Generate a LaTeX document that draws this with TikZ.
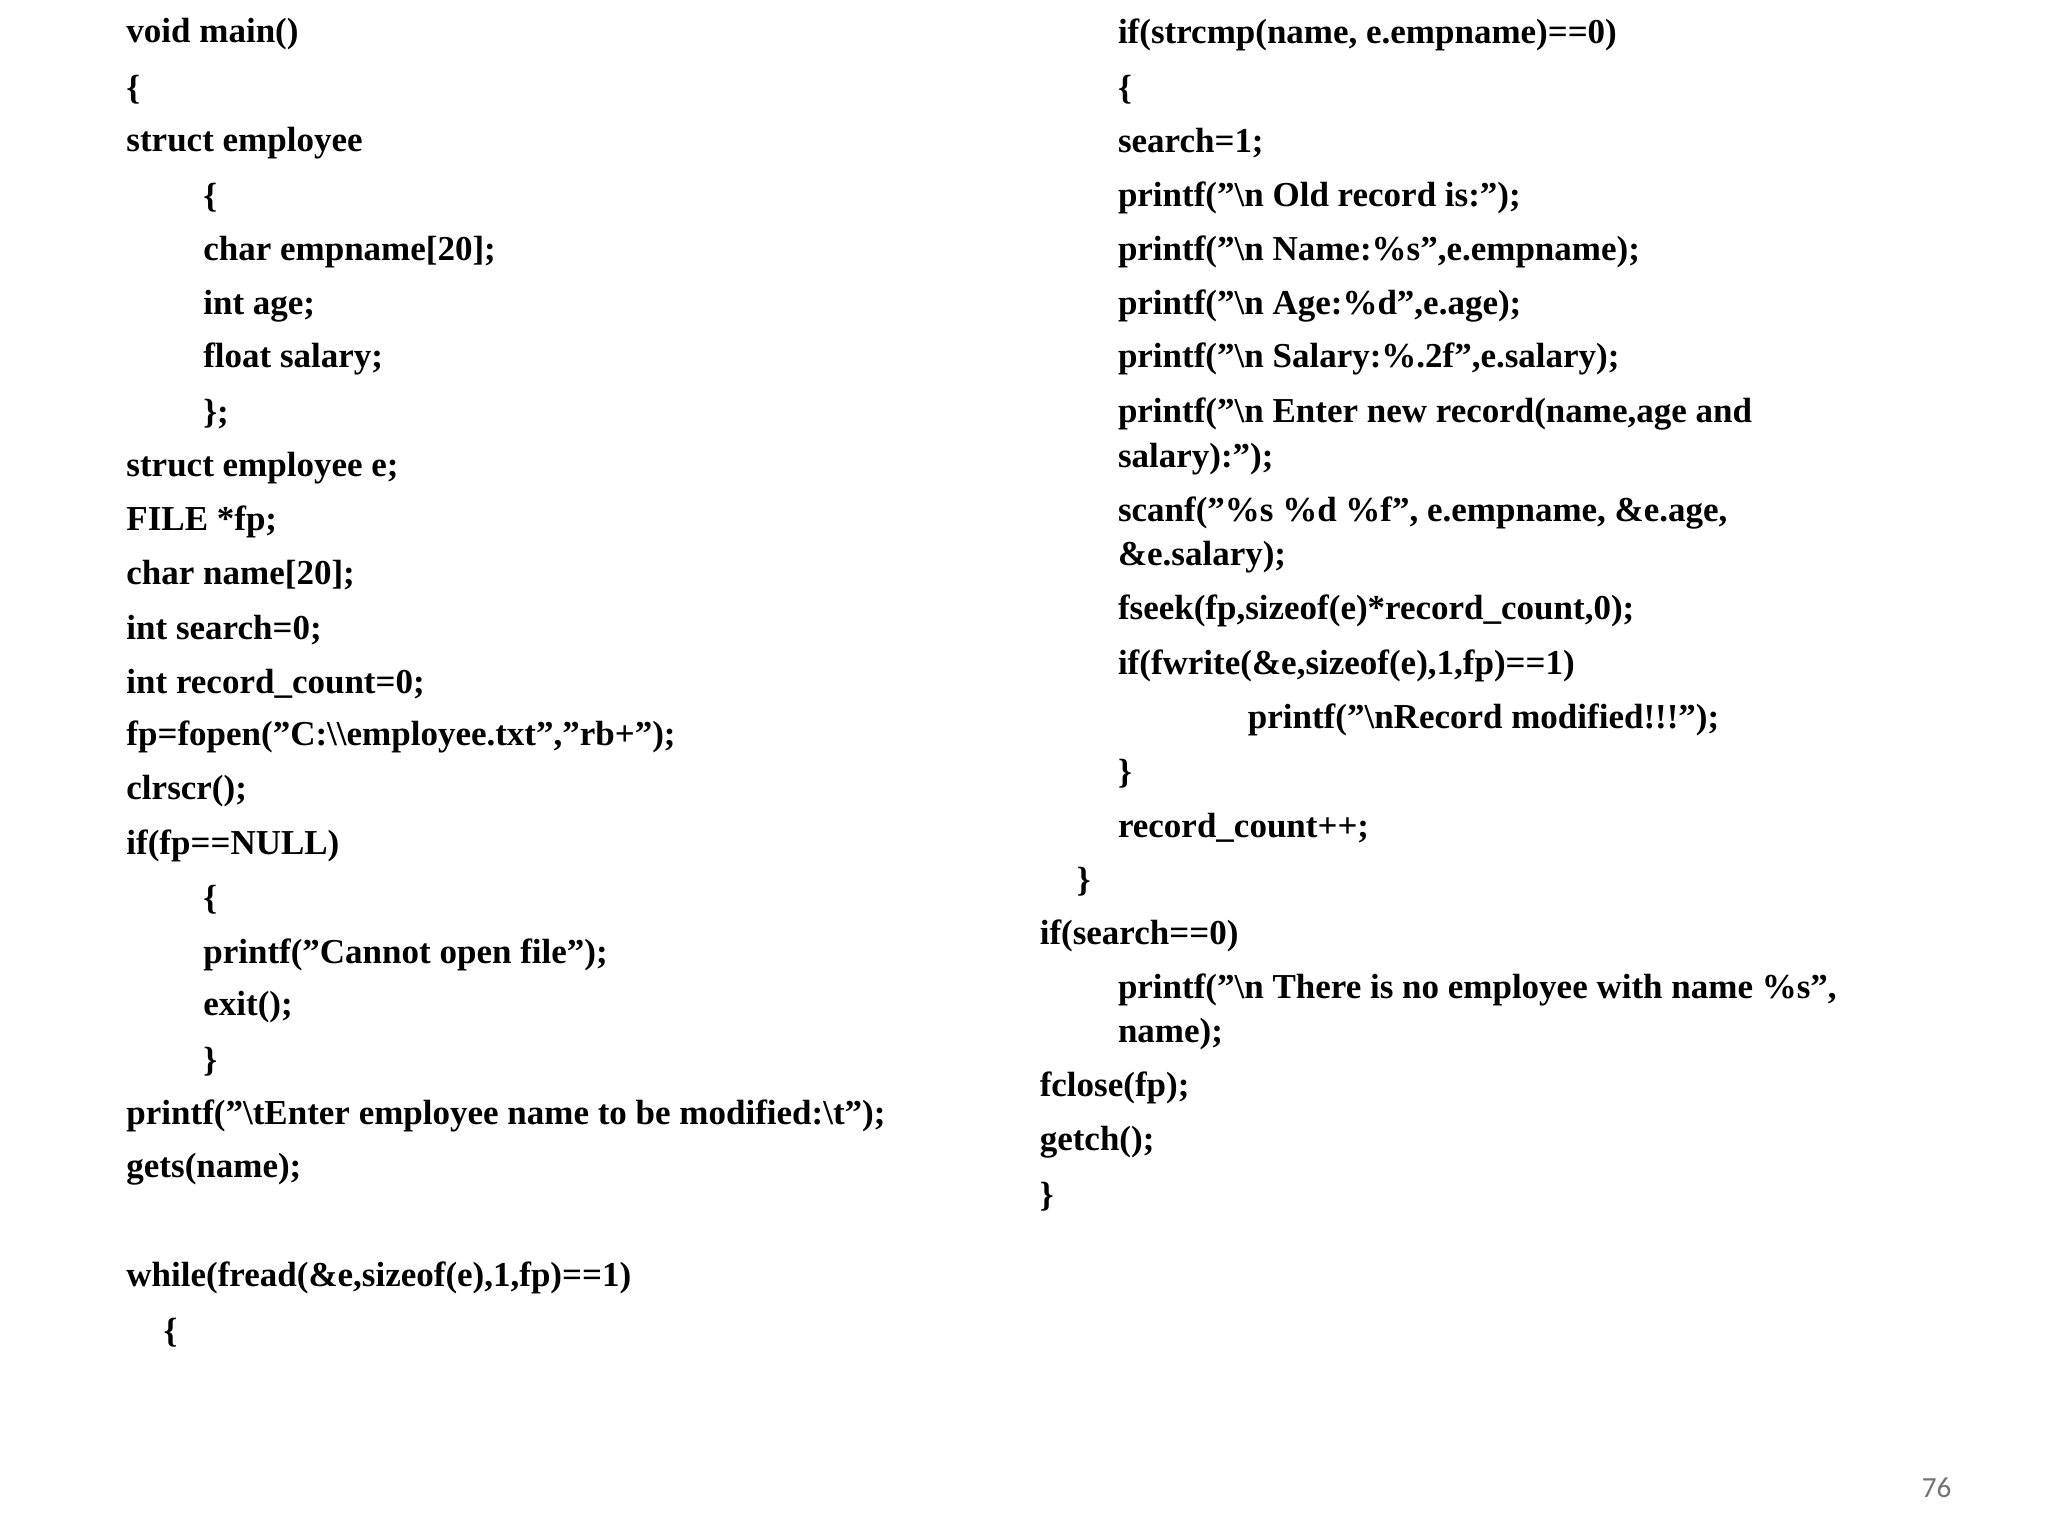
\documentclass[tikz,border=0pt]{standalone}
\usepackage{fontspec}
\setmainfont{Liberation Serif}
\newfontfamily\numfont{Carlito}
\newcommand{\bs}{\textbackslash}
\begin{document}
\begin{tikzpicture}[x=0.5pt,y=-0.5pt,
  code/.style={anchor=west,inner sep=0pt,font=\fontsize{13.2}{15}\selectfont\bfseries},
  pnum/.style={anchor=center,inner sep=0pt,font=\numfont\fontsize{11}{13}\selectfont,text=black!55}]
\useasboundingbox (0,0) rectangle (1545,1159);
% left column
\node[code] (a1) at (95,26) {void main()};
\node[code] (a2) at (95,68) {\{};
\node[code] (a3) at (95,108) {struct employee};
\node[code] (a4) at (153,149) {\{};
\node[code] (a5) at (153,190) {char empname[20];};
\node[code] (a6) at (153,231) {int age;};
\node[code] (a7) at (153,271) {float salary;};
\node[code] (a8) at (153,312) {\};};
\node[code] (a9) at (95,353) {struct employee e;};
\node[code] (a10) at (95,394) {FILE *fp;};
\node[code] (a11) at (95,434) {char name[20];};
\node[code] (a12) at (95,475) {int search=0;};
\node[code] (a13) at (95,516) {int record\_count=0;};
\node[code] (a14) at (95,556) {fp=fopen("C:\bs\bs employee.txt","rb+");};
\node[code] (a15) at (95,597) {clrscr();};
\node[code] (a16) at (95,638) {if(fp==NULL)};
\node[code] (a17) at (153,679) {\{};
\node[code] (a18) at (153,720) {printf("Cannot open file");};
\node[code] (a19) at (153,760) {exit();};
\node[code] (a20) at (153,801) {\}};
\node[code] (a21) at (95,842) {printf("\bs tEnter employee name to be modified:\bs t");};
\node[code] (a22) at (95,882) {gets(name);};
\node[code] (a23) at (95,964) {while(fread(\&e,sizeof(e),1,fp)==1)};
\node[code] (a24) at (123,1005) {\{};
% right column
\node[code] (b1) at (843,26) {if(strcmp(name, e.empname)==0)};
\node[code] (b2) at (843,68) {\{};
\node[code] (b3) at (843,108) {search=1;};
\node[code] (b4) at (843,149) {printf("\bs n Old record is:");};
\node[code] (b5) at (843,190) {printf("\bs n Name:\%s",e.empname);};
\node[code] (b6) at (843,231) {printf("\bs n Age:\%d",e.age);};
\node[code] (b7) at (843,271) {printf("\bs n Salary:\%.2f",e.salary);};
\node[code] (b8) at (843,312) {printf("\bs n Enter new record(name,age and};
\node[code] (b9) at (843,346) {salary):");};
\node[code] (b10) at (843,387) {scanf("\%s \%d \%f", e.empname, \&e.age,};
\node[code] (b11) at (843,420) {\&e.salary);};
\node[code] (b12) at (843,461) {fseek(fp,sizeof(e)*record\_count,0);};
\node[code] (b13) at (843,502) {if(fwrite(\&e,sizeof(e),1,fp)==1)};
\node[code] (b14) at (941,543) {printf("\bs nRecord modified!!!");};
\node[code] (b15) at (843,584) {\}};
\node[code] (b16) at (843,625) {record\_count++;};
\node[code] (b17) at (812,665) {\}};
\node[code] (b18) at (784,706) {if(search==0)};
\node[code] (b19) at (843,747) {printf("\bs n There is no employee with name \%s",};
\node[code] (b20) at (843,780) {name);};
\node[code] (b21) at (784,821) {fclose(fp);};
\node[code] (b22) at (784,862) {getch();};
\node[code] (b23) at (784,903) {\}};
\node[pnum] (pg) at (1461,1122) {76};
\end{tikzpicture}
\end{document}
